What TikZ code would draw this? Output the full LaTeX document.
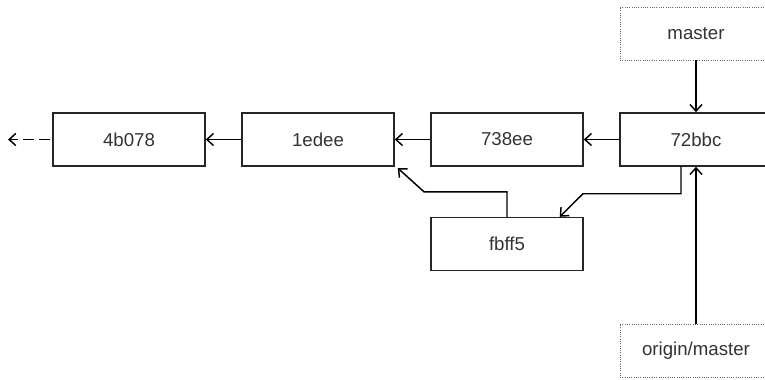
\documentclass[tikz,border=0pt]{standalone}
\usepackage{fontspec}
\setmainfont{Liberation Sans}
\usetikzlibrary{arrows.meta}
\usetikzlibrary{positioning}

\begin{document}
\begin{tikzpicture}[
		x=0.75pt,
		y=-0.75pt,
		-{Straight Barb[length=5pt,width=9pt]},
		line width=1.1pt,
		node distance=141.75pt,
		main node/.style={font=\fontsize{14}{16}\selectfont, text=black!80,
			minimum width=114pt, minimum height=39.75pt, inner sep=0pt}
		,
		commit node/.style={
			main node,
			rectangle,
			draw=black!85,
			line width=1.1pt
		},
		ref node/.style={
			main node,
			rectangle,
			draw=black!60,
			line width=0.7pt,
			densely dotted
		}
		]
		\clip (0,0) rectangle (765,379);
		\useasboundingbox (0,0) rectangle (765,379);

		\node[commit node] (c72bbc) at (696,139.5) {72bbc};
		\node[commit node] (c738ee) [left of=c72bbc] {738ee};
		\node[commit node] (c1edee) [left of=c738ee] {1edee};
		\node[commit node] (c4b078) [left of=c1edee] {4b078};
		\node[commit node] (cfbff5) [below of=c738ee, node distance=78.4pt] {fbff5};
		\node[ref node] (rmaster) [above of=c72bbc, node distance=79.5pt] {master};
		\node[ref node] (rorigin) [below of=c72bbc, node distance=158.25pt] {origin/master};
		\coordinate (older) at (8,139.5);

		\path
		(c72bbc) edge (c738ee)
		(c738ee) edge (c1edee)
		(c1edee) edge (c4b078)
		(rmaster) edge (c72bbc)
		(rorigin) edge (c72bbc);
		\draw[dash pattern=on 8.25pt off 3.75pt, dash phase=-1.5pt]
			(c4b078.west) -- (older);

		% merge parents of fbff5
		\draw ([xshift=-11.25pt]c72bbc.south) -- ++(0,27) -- ++(-98,0)
			-- ([xshift=-18pt]cfbff5.north east);
		\draw (cfbff5.north) -- ++(0,-25) -- ++(-83,0)
			-- ([shift={(2.25pt,-1pt)}]c1edee.south east);
	\end{tikzpicture}
\end{document}
